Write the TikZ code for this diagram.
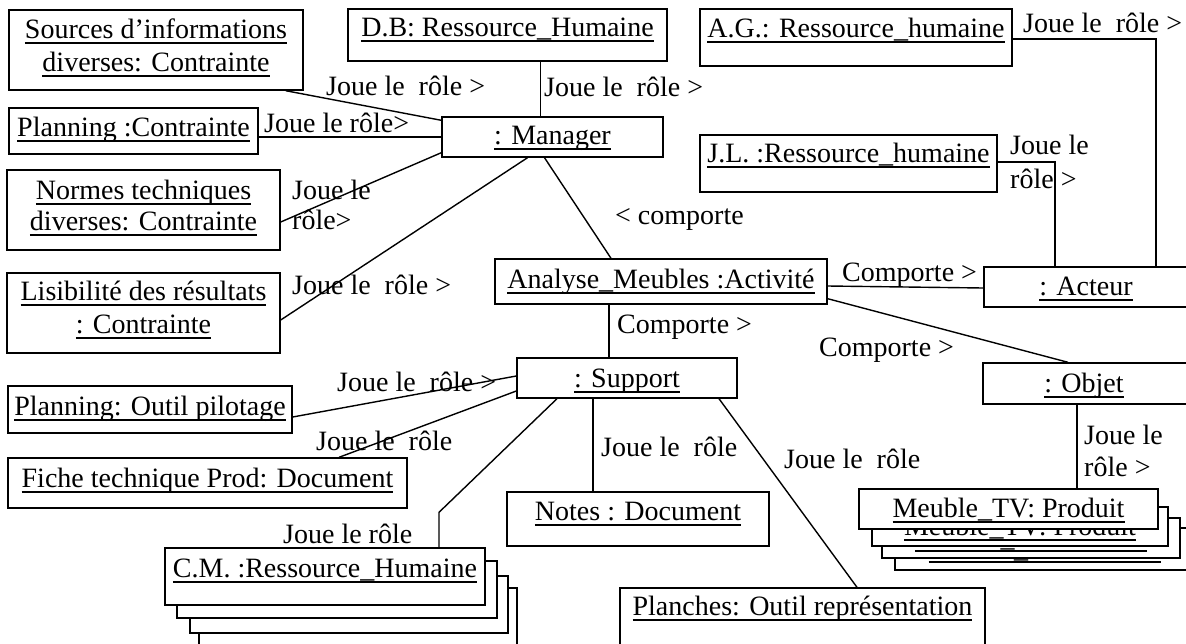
\documentclass[tikz,border=0pt]{standalone}
\usepackage{fontspec}
\setmainfont{Liberation Serif}
\usetikzlibrary{calc}
\newsavebox\myulbox
\newcommand\myul[1]{\sbox\myulbox{#1}\rlap{\rule[-5.5pt]{\wd\myulbox}{1.3pt}}\usebox\myulbox}
\tikzset{
  objbox/.style={draw, fill=white, inner sep=0pt, line width=1.4pt},
  btxt/.style={inner sep=0pt, anchor=base},
  lab/.style={inner sep=0pt, anchor=base west},
  conn/.style={line width=1.4pt}
}
\begin{document}
\begin{tikzpicture}[x=1pt, y=-1pt, font=\fontsize{28}{34}\selectfont]
\useasboundingbox (0,0) rectangle (1186,643);
\fill[white] (0,0) rectangle (1186,643);

% ---------- boxes ----------
\node[objbox, minimum width=294, minimum height=80] (src) at (156,50) {};
\node[btxt] (src1) at (156,38) {\myul{Sources d’informations}};
\node[btxt] (src2) at (156,71) {\myul{diverses: Contrainte}};

\node[objbox, minimum width=319, minimum height=52] (db) at (507.5,35) {};
\node[btxt] (dbt) at (507.5,36) {\myul{D.B: Ressource\_Humaine}};

\node[objbox, minimum width=249, minimum height=46] (plc) at (133.5,131) {};
\node[btxt] (plct) at (133.5,136) {\myul{Planning :Contrainte}};

\node[objbox, minimum width=221, minimum height=40] (mgr) at (552.5,137) {};
\node[btxt] (mgrt) at (552.5,144) {\myul{: Manager}};

\node[objbox, minimum width=273, minimum height=80] (nrm) at (143.5,210) {};
\node[btxt] (nrm1) at (143.5,199) {\myul{Normes techniques}};
\node[btxt] (nrm2) at (143.5,230) {\myul{diverses: Contrainte}};

\node[objbox, minimum width=273, minimum height=80] (lis) at (143.5,313) {};
\node[btxt] (lis1) at (143.5,300) {\myul{Lisibilité des résultats}};
\node[btxt] (lis2) at (143.5,333) {\myul{: Contrainte}};

\node[objbox, minimum width=312, minimum height=57] (ag) at (856,37.5) {};
\node[btxt] (agt) at (856,37) {\myul{A.G.: Ressource\_humaine}};

\node[objbox, minimum width=297, minimum height=57] (jl) at (848.5,163.5) {};
\node[btxt] (jlt) at (848.5,162) {\myul{J.L. :Ressource\_humaine}};

\node[objbox, minimum width=208, minimum height=40] (act) at (1088,287) {};
\node[btxt] (actt) at (1086,295) {\myul{: Acteur}};

\node[objbox, minimum width=332, minimum height=45] (ana) at (661,281.5) {};
\node[btxt] (anat) at (661,288) {\myul{Analyse\_Meubles :Activité}};

\node[objbox, minimum width=220, minimum height=40] (sup) at (627,378) {};
\node[btxt] (supt) at (627,387) {\myul{: Support}};

\node[objbox, minimum width=209, minimum height=41] (obj) at (1087.5,383.5) {};
\node[btxt] (objt) at (1084,392) {\myul{: Objet}};

\node[objbox, minimum width=284, minimum height=47] (plo) at (150,409.5) {};
\node[btxt] (plot) at (150,415) {\myul{Planning: Outil pilotage}};

\node[objbox, minimum width=399, minimum height=50] (fic) at (207.5,483) {};
\node[btxt] (fict) at (207.5,487) {\myul{Fiche technique Prod: Document}};

\node[objbox, minimum width=262, minimum height=54] (not) at (638,519) {};
\node[btxt] (nott) at (638,520) {\myul{Notes : Document}};

\node[objbox, minimum width=365, minimum height=62] (pla) at (802.5,619) {};
\node[btxt] (plat) at (802.5,615) {\myul{Planches: Outil représentation}};

% C.M. stack
\node[objbox, minimum width=318, minimum height=57] (cm3) at (358,616.5) {};
\node[objbox, minimum width=318, minimum height=57] (cm2) at (349,604.5) {};
\node[objbox, minimum width=320, minimum height=57] (cm1) at (337,589.5) {};
\node[objbox, minimum width=320, minimum height=57] (cm) at (325,576.5) {};
\node[btxt] (cmt) at (325,577) {\myul{C.M. :Ressource\_Humaine}};

% Meuble_TV stack
\node[objbox, minimum width=299, minimum height=42] (meu3) at (1044.5,549) {};
\node[btxt] (meu3t) at (1044.5,557) {\myul{Meuble\_TV: Produit}};
\node[objbox, minimum width=298, minimum height=40] (meu2) at (1031,538) {};
\node[btxt] (meu2t) at (1031,546) {\myul{Meuble\_TV: Produit}};
\node[objbox, minimum width=296, minimum height=39] (meu1) at (1020,526.5) {};
\node[btxt] (meu1t) at (1020,535) {\myul{Meuble\_TV: Produit}};
\node[objbox, minimum width=299, minimum height=40] (meu) at (1008.5,509) {};
\node[btxt] (meut) at (1008.5,517) {\myul{Meuble\_TV: Produit}};

% ---------- connectors ----------
\draw[conn] ($(src.south east)+(-18,0)$) -- ($(mgr.north west)+(0,4)$);
\draw[conn] ($(db.south)+(33,0)$) -- ($(mgr.north)+(-12,0)$);
\draw[conn] (plc.east |- mgr.west) -- (mgr.west);
\draw[conn] ($(nrm.east)+(0,12)$) -- ($(mgr.south west)+(0,-5)$);
\draw[conn] ($(lis.east)+(0,7)$) -- ($(mgr.south)+(-25,0)$);
\draw[conn] ($(mgr.south)+(-8,0)$) -- ($(ana.north)+(-50,0)$);
\draw[conn] ($(ana.south)+(-52,0)$) -- ($(sup.north)+(-18,0)$);
\draw[conn] ($(ana.east)+(0,4.5)$) -- ($(act.west)+(0,1)$);
\draw[conn] ($(ana.south east)+(0,-6)$) -- ($(obj.north)+(-19.5,0)$);
\draw[conn] ($(ag.east)+(0,1.5)$) -| ($(act.north)+(68,0)$);
\draw[conn] ($(jl.east)+(0,-1.5)$) -| ($(act.north)+(-33,0)$);
\draw[conn] ($(plo.east)+(0,7.5)$) -- ($(sup.west)+(0,-2)$);
\draw[conn] ($(fic.north)+(131.5,0)$) -- ($(sup.west)+(0,13)$);
\draw[conn] ($(sup.south)+(-70,0)$) -- ($(cm.north)+(114,-35)$) -- ($(cm.north)+(114,0)$);
\draw[conn] ($(sup.south)+(-34,0)$) -- ($(not.north)+(-45,0)$);
\draw[conn] ($(sup.south)+(92,0)$) -- ($(pla.north)+(54.5,0)$);
\draw[conn] ($(obj.south)+(-10.5,0)$) -- ($(meu.north)+(68.5,0)$);

% ---------- labels ----------
\node[lab] (l1) at (326,95) {Joue le\ \ rôle >};
\node[lab] (l2) at (544,96) {Joue le\ \ rôle >};
\node[lab] (l3) at (264,132) {Joue le rôle>};
\node[lab] (l4a) at (292,199) {Joue le};
\node[lab] (l4b) at (292,229) {rôle>};
\node[lab] (l5) at (292,294) {Joue le\ \ rôle >};
\node[lab] (l6) at (615,224) {< comporte};
\node[lab] (l7) at (1023,32) {Joue le\ \ rôle >};
\node[lab] (l8a) at (1010,154) {Joue le};
\node[lab] (l8b) at (1010,188) {rôle >};
\node[lab] (l9) at (842,281) {Comporte >};
\node[lab] (l10) at (617,333) {Comporte >};
\node[lab] (l11) at (819,356) {Comporte >};
\node[lab] (l12) at (337,391) {Joue le\ \ rôle >};
\node[lab] (l13) at (316,450) {Joue le\ \ rôle};
\node[lab] (l14) at (283,543) {Joue le rôle};
\node[lab] (l15) at (601,456) {Joue le\ \ rôle};
\node[lab] (l16) at (784,468) {Joue le\ \ rôle};
\node[lab] (l17a) at (1084,444) {Joue le};
\node[lab] (l17b) at (1084,476) {rôle >};
\end{tikzpicture}
\end{document}
